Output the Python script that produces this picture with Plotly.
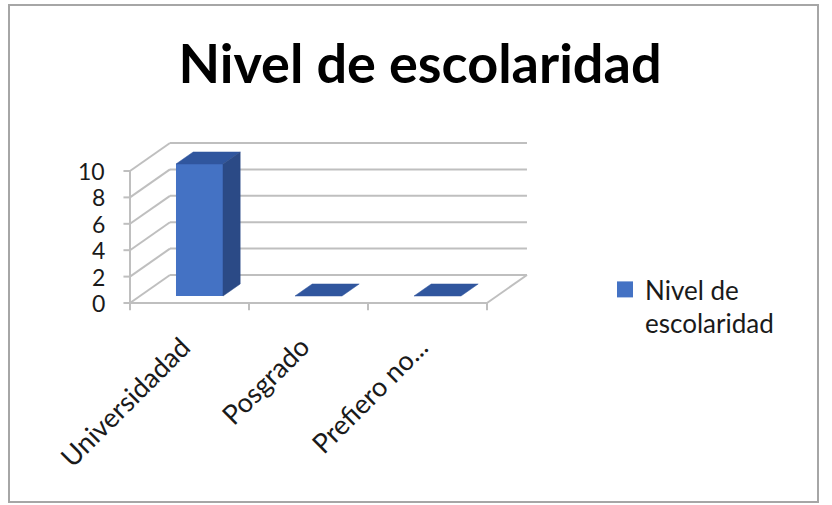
import plotly.graph_objects as go

# ---- data -------------------------------------------------------------
categories = ["Universidadad", "Posgrado", "Prefiero no..."]
values = [10, 0, 0]
series_name = "Nivel de<br>escolaridad"
y_ticks = [0, 2, 4, 6, 8, 10]
chart_title = "Nivel de escolaridad"

# ---- pseudo-3D geometry (axis units) ----------------------------------
W, H = 832, 505
PX_PER_CAT = 119.0        # pixels per category slot
PX_PER_UNIT = 13.2        # pixels per value unit
ORIGIN_PX = (130, 303)    # front-left floor corner in pixels
DX, DY = 0.336, 2.12      # oblique offset of the full depth
BAR_W = 0.395
D_FRONT, D_BACK = 0.25, 0.68   # depth span of each bar (fraction of DX/DY)

x_range = [-0.5 - ORIGIN_PX[0] / PX_PER_CAT, -0.5 + (W - ORIGIN_PX[0]) / PX_PER_CAT]
y_range = [-(H - ORIGIN_PX[1]) / PX_PER_UNIT, ORIGIN_PX[1] / PX_PER_UNIT]

FONT = "Lato, 'Open Sans', sans-serif"
GRID = "#BFBFBF"
BLUE_FRONT = "#4472C4"
BLUE_TOP = "#30569E"
BLUE_SIDE = "#2B4A86"

n = len(categories)
x_left, x_right = -0.5, n - 0.5
y_top = max(y_ticks)

shapes = []


def seg(x0, y0, x1, y1, color=GRID, width=2):
    shapes.append(dict(type="line", xref="x", yref="y", x0=x0, y0=y0, x1=x1, y1=y1,
                       line=dict(color=color, width=width), layer="below"))


# back wall gridlines and left wall diagonals
for t in y_ticks:
    seg(x_left + DX, DY + t, x_right + DX, DY + t)
    seg(x_left, t, x_left + DX, DY + t)
    seg(x_left, t, x_left - 0.055, t)          # tick mark on the value axis
# floor edges
seg(x_left, 0, x_right, 0)
seg(x_right, 0, x_right + DX, DY)
# front value axis line
seg(x_left, 0, x_left, y_top)
# category boundary ticks
for b in range(n + 1):
    seg(x_left + b, 0, x_left + b, -0.55)

# outer chart frame
shapes.append(dict(type="rect", xref="paper", yref="paper",
                   x0=9 / W, x1=818 / W, y0=1 - 502 / H, y1=1 - 5 / H,
                   line=dict(color="#A6A6A6", width=2), layer="below"))

fig = go.Figure()

# front faces of the columns
fig.add_trace(go.Bar(
    x=[i + D_FRONT * DX for i in range(n)],
    y=values,
    base=[D_FRONT * DY] * n,
    width=BAR_W,
    marker=dict(color=BLUE_FRONT, line=dict(width=0)),
    showlegend=False,
    hoverinfo="skip",
))

# top and right-side faces
for i, v in enumerate(values):
    xl = i - BAR_W / 2
    xr = i + BAR_W / 2
    yb0 = D_FRONT * DY
    yb1 = D_BACK * DY
    top_x = [xl + D_FRONT * DX, xr + D_FRONT * DX, xr + D_BACK * DX, xl + D_BACK * DX, xl + D_FRONT * DX]
    top_y = [yb0 + v, yb0 + v, yb1 + v, yb1 + v, yb0 + v]
    fig.add_trace(go.Scatter(x=top_x, y=top_y, fill="toself", mode="lines",
                             fillcolor=BLUE_TOP, line=dict(width=0.5, color=BLUE_TOP),
                             showlegend=False, hoverinfo="skip"))
    if v > 0:
        side_x = [xr + D_FRONT * DX, xr + D_BACK * DX, xr + D_BACK * DX, xr + D_FRONT * DX, xr + D_FRONT * DX]
        side_y = [yb0, yb1, yb1 + v, yb0 + v, yb0]
        fig.add_trace(go.Scatter(x=side_x, y=side_y, fill="toself", mode="lines",
                                 fillcolor=BLUE_SIDE, line=dict(width=0.5, color=BLUE_SIDE),
                                 showlegend=False, hoverinfo="skip"))

# legend entry
fig.add_trace(go.Scatter(x=[None], y=[None], mode="markers", name=series_name,
                         marker=dict(symbol="square", size=16, color=BLUE_FRONT)))

annotations = []
# value axis labels
for t in y_ticks:
    annotations.append(dict(x=x_left - 0.2, y=t, xref="x", yref="y", text=str(t),
                            showarrow=False, xanchor="right", yanchor="middle", borderpad=0,
                            font=dict(family=FONT, size=23, color="#1A1A1A")))
# rotated category labels
for i, c in enumerate(categories):
    annotations.append(dict(x=i + 0.08, y=-1.8, xref="x", yref="y", text=c,
                            showarrow=False, xanchor="right", yanchor="top", textangle=-45,
                            font=dict(family=FONT, size=27, color="#1A1A1A")))

fig.update_layout(
    width=W, height=H,
    margin=dict(l=0, r=0, t=0, b=0),
    paper_bgcolor="white", plot_bgcolor="white",
    title=dict(text="<b>" + chart_title + "</b>", x=420 / W, xanchor="center",
               y=1 - 64 / H, yanchor="middle",
               font=dict(family=FONT, size=54, color="black")),
    xaxis=dict(range=x_range, visible=False, fixedrange=True),
    yaxis=dict(range=y_range, visible=False, fixedrange=True),
    showlegend=True,
    legend=dict(x=605 / W, xanchor="left", y=1 - 266 / H, yanchor="top",
                valign="top", bgcolor="rgba(0,0,0,0)",
                font=dict(family=FONT, size=26, color="#1A1A1A")),
    shapes=shapes,
    annotations=annotations,
)

fig.write_html("out.html")
